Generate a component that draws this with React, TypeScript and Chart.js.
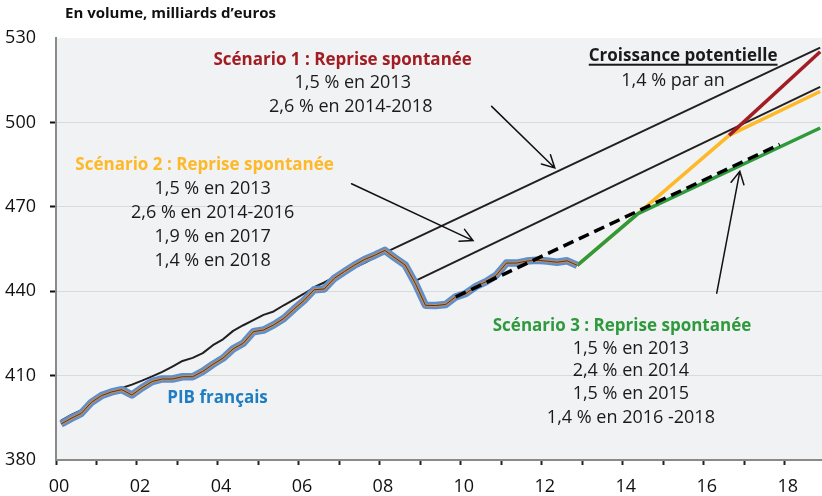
import React, { useEffect, useRef } from 'react';
import { Chart, registerables } from 'chart.js';

Chart.register(...registerables);

const FONT = "'Open Sans', 'DejaVu Sans', sans-serif";

// ---------- DATA ----------
// PIB français, en volume (milliards d'euros), trimestriel 2000T1 → 2012T4
const pibStartYear = 2000;
const pibFrancais = [
  392.8, 394.8, 396.6, 400.5, // 2000
  402.9, 404.2, 405.0, 403.1, // 2001
  405.7, 407.9, 408.8, 408.8, // 2002
  409.6, 409.6, 411.5, 414.0, // 2003
  416.2, 419.5, 421.5, 425.6, // 2004
  426.2, 428.0, 430.3, 433.6, // 2005
  436.7, 440.5, 440.8, 444.6, // 2006
  447.0, 449.3, 451.3, 452.8, // 2007
  454.5, 451.8, 449.3, 442.8, // 2008
  435.0, 434.9, 435.3, 438.0, // 2009
  439.2, 441.7, 443.4, 445.7, // 2010
  450.0, 450.0, 450.7, 451.0, // 2011
  450.7, 450.3, 450.8, 449.2, // 2012
];

// PIB potentiel, trimestriel 2000T1 → 2008T1, puis prolongé à 1,4 % par an
const potentiel = [
  394.0, 396.0, 397.7, 401.1,
  403.2, 404.5, 405.6, 406.8,
  408.2, 409.7, 411.3, 413.2,
  415.2, 416.3, 418.0, 420.8,
  422.9, 425.9, 427.9, 429.7,
  431.6, 432.8, 435.0, 437.0,
  439.1, 441.4, 443.1, 445.0,
  446.8, 448.4, 450.1, 451.9,
  453.7,
];
const potentielFinDate = '2018T4';
const potentielFin = 526.6;

// Croissance potentielle à partir d'un niveau abaissé
const potentielBasDates = ['2008T4', '2018T4'];
const potentielBas = [443.7, 512.6];

// Tendance (tirets)
const tendanceDates = ['2009T4', '2017T4'];
const tendance = [438.0, 492.2];

// Scénarios
const scenario3Dates = ['2012T4', '2014T2', '2018T4'];
const scenario3 = [449.2, 467.6, 498.0];
const scenario2Dates = ['2012T4', '2014T2', '2016T3', '2018T4'];
const scenario2 = [449.2, 467.6, 495.4, 511.0];
const scenario1Dates = ['2016T3', '2018T4'];
const scenario1 = [495.4, 525.1];

// Axes
const xTickYears = [2000, 2001, 2002, 2003, 2004, 2005, 2006, 2007, 2008, 2009, 2010, 2011, 2012, 2013, 2014, 2015, 2016, 2017, 2018];
const xTickLabels = ['00', '', '02', '', '04', '', '06', '', '08', '', '10', '', '12', '', '14', '', '16', '', '18'];
const yTicks = [380, 410, 440, 470, 500, 530];

// ---------- HELPERS ----------
const quarterToYear = (label: string) => {
  const [y, q] = label.split('T').map(Number);
  return y + (q - 0.5) / 4;
};
const quarterly = (values: number[]) =>
  values.map((v, i) => ({ x: pibStartYear + Math.floor(i / 4) + ((i % 4) + 0.5) / 4, y: v }));
const dated = (dates: string[], values: number[]) => values.map((v, i) => ({ x: quarterToYear(dates[i]), y: v }));

const RED = '#a11d23';
const YELLOW = '#fdb927';
const GREEN = '#2f9a3d';
const BLUE_TXT = '#1f7dc2';
const TXT = '#1a1a1a';

type Note = { text: string; x: number; y: number; color: string; bold?: boolean; size: number; underline?: boolean };
const notes: Note[] = [
  { text: 'Scénario 1 : Reprise spontanée', x: 2007.08, y: 522.3, color: RED, bold: true, size: 17 },
  { text: '1,5 % en 2013', x: 2007.33, y: 514.1, color: TXT, size: 18 },
  { text: '2,6 % en 2014-2018', x: 2007.28, y: 505.6, color: TXT, size: 18 },
  { text: 'Croissance potentielle', x: 2015.49, y: 523.7, color: TXT, bold: true, size: 17, underline: true },
  { text: '1,4 % par an', x: 2015.24, y: 514.8, color: TXT, size: 18 },
  { text: 'Scénario 2 : Reprise spontanée', x: 2003.67, y: 484.9, color: YELLOW, bold: true, size: 17 },
  { text: '1,5 % en 2013', x: 2003.87, y: 476.4, color: TXT, size: 18 },
  { text: '2,6 % en 2014-2016', x: 2003.87, y: 467.9, color: TXT, size: 18 },
  { text: '1,9 % en 2017', x: 2003.87, y: 459.3, color: TXT, size: 18 },
  { text: '1,4 % en 2018', x: 2003.87, y: 450.8, color: TXT, size: 18 },
  { text: 'Scénario 3 : Reprise spontanée', x: 2013.98, y: 427.7, color: GREEN, bold: true, size: 17 },
  { text: '1,5 % en 2013', x: 2014.2, y: 419.6, color: TXT, size: 18 },
  { text: '2,4 % en 2014', x: 2014.2, y: 411.8, color: TXT, size: 18 },
  { text: '1,5 % en 2015', x: 2014.2, y: 403.4, color: TXT, size: 18 },
  { text: '1,4 % en 2016 -2018', x: 2014.2, y: 395.0, color: TXT, size: 18 },
  { text: 'PIB français', x: 2003.99, y: 402.1, color: BLUE_TXT, bold: true, size: 17 },
];

const arrows = [
  { from: [2010.76, 505.7], to: [2012.32, 483.8] },
  { from: [2007.3, 478.2], to: [2010.3, 458.0] },
  { from: [2016.32, 439.3], to: [2016.89, 482.6] },
];

const annotationPlugin = {
  id: 'annotations',
  beforeDraw(chart: any) {
    const { ctx, chartArea: a } = chart;
    ctx.save();
    ctx.fillStyle = '#f1f2f4';
    ctx.fillRect(a.left, a.top, a.right - a.left, a.bottom - a.top);
    ctx.restore();
  },
  afterDatasetsDraw(chart: any) {
    const { ctx } = chart;
    const xs = chart.scales.x;
    const ys = chart.scales.y;
    ctx.save();
    // arrows
    ctx.strokeStyle = '#111';
    ctx.lineWidth = 1.5;
    ctx.lineCap = 'round';
    arrows.forEach((ar) => {
      const x1 = xs.getPixelForValue(ar.from[0]);
      const y1 = ys.getPixelForValue(ar.from[1]);
      const x2 = xs.getPixelForValue(ar.to[0]);
      const y2 = ys.getPixelForValue(ar.to[1]);
      const ang = Math.atan2(y2 - y1, x2 - x1);
      ctx.beginPath();
      ctx.moveTo(x1, y1);
      ctx.lineTo(x2, y2);
      const L = 14;
      const s = Math.PI / 6.5;
      ctx.moveTo(x2 - L * Math.cos(ang - s), y2 - L * Math.sin(ang - s));
      ctx.lineTo(x2, y2);
      ctx.lineTo(x2 - L * Math.cos(ang + s), y2 - L * Math.sin(ang + s));
      ctx.stroke();
    });
    // texts
    ctx.textAlign = 'center';
    ctx.textBaseline = 'middle';
    notes.forEach((n) => {
      const px = xs.getPixelForValue(n.x);
      const py = ys.getPixelForValue(n.y);
      ctx.font = `${n.bold ? 'bold ' : ''}${n.size}px ${FONT}`;
      ctx.fillStyle = n.color;
      ctx.fillText(n.text, px, py);
      if (n.underline) {
        const w = ctx.measureText(n.text).width;
        ctx.fillRect(px - w / 2, py + 8, w, 2);
      }
    });
    // title
    ctx.textAlign = 'left';
    ctx.font = `bold 15px ${FONT}`;
    ctx.fillStyle = '#111';
    ctx.fillText('En volume, milliards d\u2019euros', 65, 14);
    ctx.restore();
  },
};

export default function App() {
  const ref = useRef<HTMLCanvasElement>(null);
  useEffect(() => {
    if (!ref.current) return;
    const line = (data: any[], color: string, width: number, order: number, extra: any = {}) => ({
      data,
      borderColor: color,
      borderWidth: width,
      pointRadius: 0,
      fill: false,
      tension: 0,
      borderJoinStyle: 'round',
      borderCapStyle: 'butt',
      order,
      ...extra,
    });
    const potentielPts = [...quarterly(potentiel), { x: quarterToYear(potentielFinDate), y: potentielFin }];
    const chart = new Chart(ref.current, {
      type: 'line',
      data: {
        datasets: [
          line(dated(tendanceDates, tendance), '#000', 3.5, 0, { borderDash: [11, 6] }),
          line(quarterly(pibFrancais), '#3d3a38', 1, 1),
          line(quarterly(pibFrancais), '#d08a4a', 3, 2),
          line(quarterly(pibFrancais), '#5b8fd0', 7.5, 3),
          line(dated(scenario1Dates, scenario1), RED, 3.5, 4),
          line(dated(scenario3Dates, scenario3), GREEN, 3.5, 5),
          line(potentielPts, '#231f20', 2, 6),
          line(dated(potentielBasDates, potentielBas), '#231f20', 2, 6),
          line(dated(scenario2Dates, scenario2), YELLOW, 3.5, 7),
        ] as any,
      },
      options: {
        animation: false,
        responsive: false,
        maintainAspectRatio: false,
        parsing: false as any,
        normalized: true,
        layout: { padding: { top: 38, right: 0, bottom: 0, left: 0 } },
        plugins: { legend: { display: false }, tooltip: { enabled: false }, title: { display: false } },
        elements: { point: { radius: 0 } },
        scales: {
          x: {
            type: 'linear',
            min: 2000,
            max: 2018.92,
            afterBuildTicks: (s: any) => {
              s.ticks = xTickYears.map((v) => ({ value: v }));
            },
            afterFit: (s: any) => {
              s.height = 36;
            },
            grid: { drawOnChartArea: false, drawTicks: true, tickLength: 5, tickColor: '#222', tickWidth: 2 } as any,
            border: { color: '#8a8a8a', width: 2 },
            ticks: {
              autoSkip: false,
              maxRotation: 0,
              padding: 11,
              labelOffset: 3,
              color: '#111',
              font: { family: FONT, size: 18 },
              callback: (_v: any, i: number) => xTickLabels[i],
            },
          },
          y: {
            type: 'linear',
            min: 380,
            max: 530,
            afterBuildTicks: (s: any) => {
              s.ticks = yTicks.map((v) => ({ value: v }));
            },
            afterFit: (s: any) => {
              s.width = 56;
            },
            grid: {
              drawOnChartArea: true,
              drawTicks: true,
              tickLength: 6,
              lineWidth: 1,
              tickWidth: 2,
              color: (c: any) => (c.tick && (c.tick.value === 530 || c.tick.value === 380) ? 'rgba(0,0,0,0)' : '#d9dadd'),
              tickColor: (c: any) => (c.tick && (c.tick.value === 530 || c.tick.value === 380) ? 'rgba(0,0,0,0)' : '#111'),
            } as any,
            border: { color: '#8a8a8a', width: 2 },
            ticks: {
              padding: 14,
              color: '#111',
              font: { family: FONT, size: 18 },
              callback: (v: any) => String(v),
            },
          },
        },
      },
      plugins: [annotationPlugin],
    } as any);
    return () => chart.destroy();
  }, []);
  return (
    <div style={{ position: 'absolute', left: 0, top: 0, width: 822, height: 496, background: '#fff' }}>
      <canvas ref={ref} width={822} height={496} style={{ width: 822, height: 496, display: 'block' }} />
    </div>
  );
}
